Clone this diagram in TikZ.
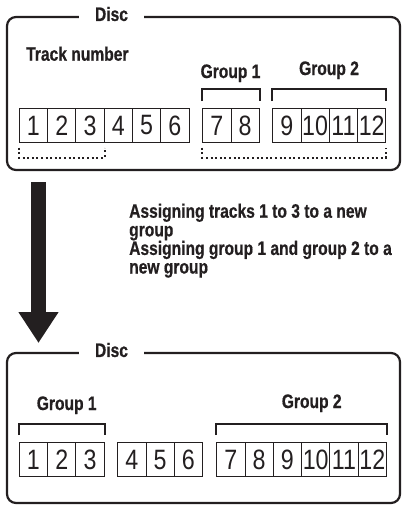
\documentclass[tikz,border=0pt]{standalone}
\usepackage{fontspec}
\usetikzlibrary{arrows.meta}
\setmainfont{Liberation Sans}
\newfontfamily\labelfont[FakeStretch=0.8, FakeBold=0.6]{Liberation Sans}
\newfontfamily\digitfont[FakeStretch=0.83]{Liberation Sans}
\definecolor{ink}{RGB}{35,31,32}
\tikzset{
	cell/.style = {draw = ink, line width = 0.9pt, minimum width = 28.3pt, minimum height = 34.5pt, inner sep = 0pt, text = ink, font = \digitfont\fontsize{28}{28}\selectfont},
	discbox/.style = {draw = ink, line width = 2.2pt, rounded corners = 9pt},
	heading/.style = {text = ink, inner sep = 0pt, font = \labelfont\bfseries\fontsize{19.5}{18.6}\selectfont},
	disclabel/.style = {heading, fill = white, inner xsep = 16pt, inner ysep = 1pt},
	bracket/.style = {draw = ink, line width = 2pt},
	dotbracket/.style = {draw = ink, line width = 2pt, dash pattern = on 2pt off 2.6pt}
}
\begin{document}
\begin{tikzpicture}[x = 1pt, y = -1pt]

	\useasboundingbox (0, 0) rectangle (407, 509);

	% cell size and rows
	\def\cellW{28.3}
	\def\topRow{125.5}
	\def\bottomRow{459.5}

	% disc before regrouping
	\draw[discbox] (7, 17) rectangle (400, 170);
	\node[disclabel] (discTop) at (111.5, 14) {Disc};
	\node[heading, anchor = base west] (trackLabel) at (26, 60.7) {Track number};

	\foreach \i in {1,...,6}
		\node[cell] (c\i) at ({19.3 + (\i - 0.5) * \cellW}, \topRow) {\i};
	\foreach \i in {7, 8}
		\node[cell] (c\i) at ({202.7 + (\i - 6.5) * \cellW}, \topRow) {\i};
	\foreach \i in {9,...,12}
		\node[cell] (c\i) at ({272.7 + (\i - 8.5) * \cellW}, \topRow) {\i};

	\node[heading, anchor = base] (groupOneTop) at (230.5, 78) {Group 1};
	\node[heading, anchor = base] (groupTwoTop) at (329, 75) {Group 2};
	\draw[bracket] ([yshift = 6.6pt]c7.north west) -- ++(0, -12.4) -| ([yshift = 6.6pt]c8.north east);
	\draw[bracket] ([yshift = 6.6pt]c9.north west) -- ++(0, -12.4) -| ([yshift = 6.6pt]c12.north east);

	% dotted marks for the tracks that get regrouped
	\draw[dotbracket] ([yshift = -4.3pt]c1.south west) -- ++(0, 10) -| ([yshift = -4.3pt]c3.south east);
	\draw[dotbracket] ([yshift = -4.3pt]c7.south west) -- ++(0, 10) -| ([yshift = -4.3pt]c12.south east);

	% big arrow down
	\coordinate (arrowTop) at (38.5, 182);
	\coordinate (arrowTip) at (38.5, 343);
	\draw[ink, line width = 15pt, -{Triangle[width = 38pt, length = 31pt]}] (arrowTop) -- (arrowTip);

	\node[heading, anchor = north west, align = left] (note) at (129, 203.4)
		{Assigning tracks 1 to 3 to a new\\group\\Assigning group 1 and group 2 to a\\new group};

	% disc after regrouping
	\draw[discbox] (7, 353) rectangle (400, 503);
	\node[disclabel] (discBottom) at (111.5, 350) {Disc};

	\foreach \i in {1,...,3}
		\node[cell] (d\i) at ({19.3 + (\i - 0.5) * \cellW}, \bottomRow) {\i};
	\foreach \i in {4,...,6}
		\node[cell] (d\i) at ({117.7 + (\i - 3.5) * \cellW}, \bottomRow) {\i};
	\foreach \i in {7,...,12}
		\node[cell] (d\i) at ({216.7 + (\i - 6.5) * \cellW}, \bottomRow) {\i};

	\node[heading, anchor = base] (groupOneBottom) at (66.7, 410) {Group 1};
	\node[heading, anchor = base] (groupTwoBottom) at (311.7, 408) {Group 2};
	\draw[bracket] ([yshift = 6.6pt]d1.north west) -- ++(0, -11.4) -| ([yshift = 6.6pt]d3.north east);
	\draw[bracket] ([yshift = 6.6pt]d7.north west) -- ++(0, -11.4) -| ([yshift = 6.6pt]d12.north east);

\end{tikzpicture}
\end{document}
